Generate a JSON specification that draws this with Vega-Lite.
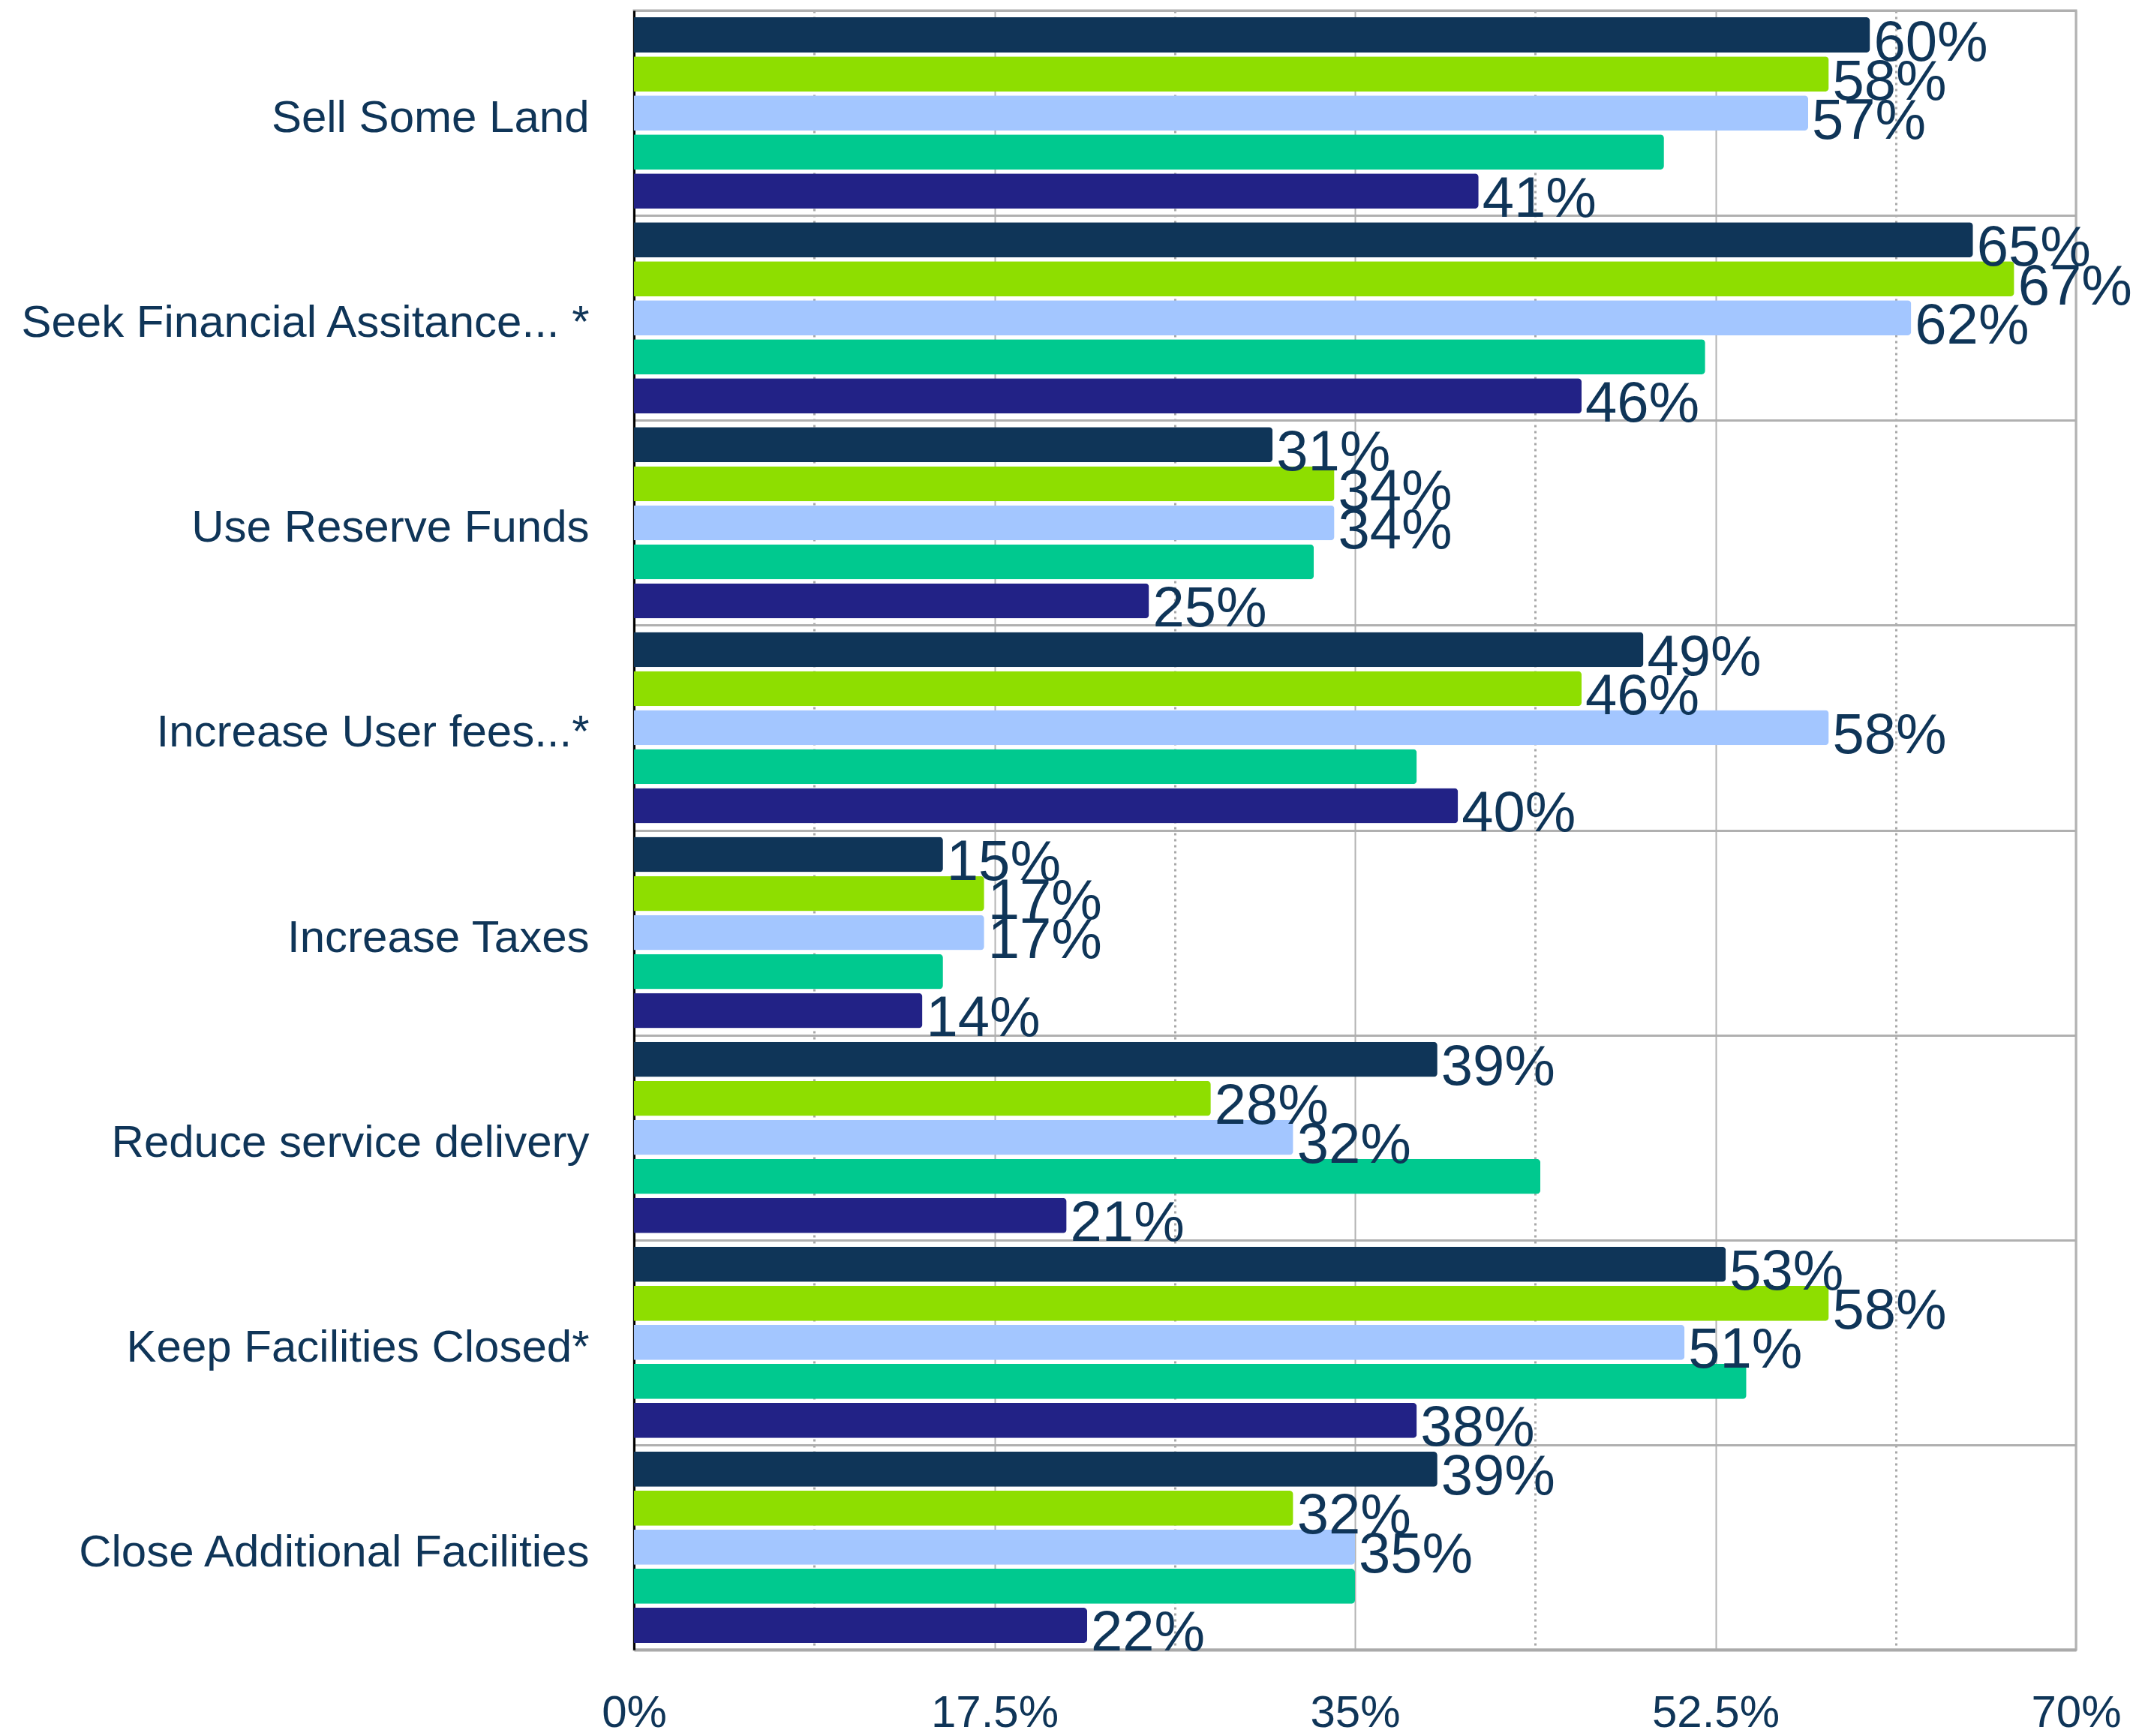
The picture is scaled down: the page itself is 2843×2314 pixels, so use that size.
{
  "$schema": "https://vega.github.io/schema/vega-lite/v6.json",
  "width": 1922,
  "height": 2185,
  "autosize": {"type": "none"},
  "padding": {"left": 845, "top": 14, "right": 76, "bottom": 115},
  "background": "white",
  "config": {"view": {"stroke": "#b0b0b0", "strokeWidth": 3}, "font": "Liberation Sans"},
  "data": {"values": [
    {"strategy": "Sell Some Land", "series": "Series 1", "value": 0.60},
    {"strategy": "Sell Some Land", "series": "Series 2", "value": 0.58},
    {"strategy": "Sell Some Land", "series": "Series 3", "value": 0.57},
    {"strategy": "Sell Some Land", "series": "Series 4", "value": 0.50},
    {"strategy": "Sell Some Land", "series": "Series 5", "value": 0.41},
    {"strategy": "Seek Financial Assitance... *", "series": "Series 1", "value": 0.65},
    {"strategy": "Seek Financial Assitance... *", "series": "Series 2", "value": 0.67},
    {"strategy": "Seek Financial Assitance... *", "series": "Series 3", "value": 0.62},
    {"strategy": "Seek Financial Assitance... *", "series": "Series 4", "value": 0.52},
    {"strategy": "Seek Financial Assitance... *", "series": "Series 5", "value": 0.46},
    {"strategy": "Use Reserve Funds", "series": "Series 1", "value": 0.31},
    {"strategy": "Use Reserve Funds", "series": "Series 2", "value": 0.34},
    {"strategy": "Use Reserve Funds", "series": "Series 3", "value": 0.34},
    {"strategy": "Use Reserve Funds", "series": "Series 4", "value": 0.33},
    {"strategy": "Use Reserve Funds", "series": "Series 5", "value": 0.25},
    {"strategy": "Increase User fees...*", "series": "Series 1", "value": 0.49},
    {"strategy": "Increase User fees...*", "series": "Series 2", "value": 0.46},
    {"strategy": "Increase User fees...*", "series": "Series 3", "value": 0.58},
    {"strategy": "Increase User fees...*", "series": "Series 4", "value": 0.38},
    {"strategy": "Increase User fees...*", "series": "Series 5", "value": 0.40},
    {"strategy": "Increase Taxes", "series": "Series 1", "value": 0.15},
    {"strategy": "Increase Taxes", "series": "Series 2", "value": 0.17},
    {"strategy": "Increase Taxes", "series": "Series 3", "value": 0.17},
    {"strategy": "Increase Taxes", "series": "Series 4", "value": 0.15},
    {"strategy": "Increase Taxes", "series": "Series 5", "value": 0.14},
    {"strategy": "Reduce service delivery", "series": "Series 1", "value": 0.39},
    {"strategy": "Reduce service delivery", "series": "Series 2", "value": 0.28},
    {"strategy": "Reduce service delivery", "series": "Series 3", "value": 0.32},
    {"strategy": "Reduce service delivery", "series": "Series 4", "value": 0.44},
    {"strategy": "Reduce service delivery", "series": "Series 5", "value": 0.21},
    {"strategy": "Keep Facilities Closed*", "series": "Series 1", "value": 0.53},
    {"strategy": "Keep Facilities Closed*", "series": "Series 2", "value": 0.58},
    {"strategy": "Keep Facilities Closed*", "series": "Series 3", "value": 0.51},
    {"strategy": "Keep Facilities Closed*", "series": "Series 4", "value": 0.54},
    {"strategy": "Keep Facilities Closed*", "series": "Series 5", "value": 0.38},
    {"strategy": "Close Additional Facilities", "series": "Series 1", "value": 0.39},
    {"strategy": "Close Additional Facilities", "series": "Series 2", "value": 0.32},
    {"strategy": "Close Additional Facilities", "series": "Series 3", "value": 0.35},
    {"strategy": "Close Additional Facilities", "series": "Series 4", "value": 0.35},
    {"strategy": "Close Additional Facilities", "series": "Series 5", "value": 0.22}
  ]},
  "encoding": {
    "y": {
      "field": "strategy", "type": "nominal",
      "sort": ["Sell Some Land", "Seek Financial Assitance... *", "Use Reserve Funds", "Increase User fees...*", "Increase Taxes", "Reduce service delivery", "Keep Facilities Closed*", "Close Additional Facilities"],
      "scale": {"paddingInner": 0, "paddingOuter": 0},
      "axis": {
        "title": null, "domain": true, "domainColor": "#000000", "domainWidth": 3,
        "ticks": false, "labelFontSize": 60, "labelColor": "#0f3558", "labelPadding": 60,
        "labelOffset": 7, "labelLimit": 1000, "grid": true, "tickBand": "extent",
        "gridColor": "#b0b0b0", "gridWidth": 3
      }
    },
    "yOffset": {
      "field": "series", "type": "nominal",
      "sort": ["Series 1", "Series 2", "Series 3", "Series 4", "Series 5"],
      "scale": {"paddingInner": 0.1, "paddingOuter": 0.175}
    }
  },
  "layer": [
    {
      "mark": {"type": "bar", "cornerRadiusEnd": 5},
      "encoding": {
        "x": {
          "field": "value", "type": "quantitative",
          "scale": {"domain": [0, 0.7], "nice": false},
          "axis": {
            "title": null, "values": [0, 0.175, 0.35, 0.525, 0.7], "format": ".1~%",
            "grid": true, "gridColor": "#b4b4b4", "gridWidth": 2,
            "domainColor": "#aaaaaa", "domainWidth": 4, "ticks": false,
            "labelFontSize": 60, "labelColor": "#0f3558",
            "labelPadding": 55, "labelFlush": false
          }
        },
        "color": {
          "field": "series", "type": "nominal", "legend": null,
          "scale": {"domain": ["Series 1", "Series 2", "Series 3", "Series 4", "Series 5"],
                    "range": ["#0f3558", "#8ede00", "#a3c6ff", "#00c98f", "#222286"]}
        }
      }
    },
    {
      "transform": [{"filter": "datum.series != 'Series 4'"}],
      "mark": {"type": "text", "align": "left", "baseline": "middle", "dx": 5, "dy": 11, "fontSize": 76, "color": "#0f3558"},
      "encoding": {
        "x": {
          "field": "value", "type": "quantitative",
          "axis": {
            "orient": "top", "title": null, "values": [0.0875, 0.2625, 0.4375, 0.6125],
            "grid": true, "gridDash": [3, 5], "gridColor": "#a8a8a8", "gridWidth": 3,
            "labels": false, "ticks": false, "domain": false
          }
        },
        "text": {"field": "value", "format": ".0%"}
      }
    }
  ],
  "resolve": {"axis": {"x": "independent"}}
}
